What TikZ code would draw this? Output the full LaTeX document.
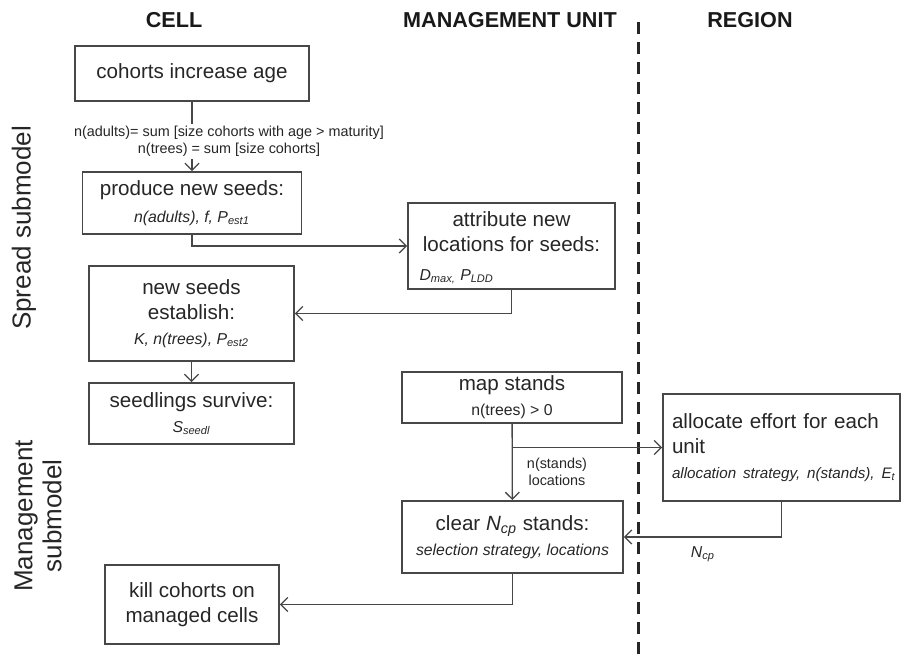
\documentclass[tikz,border=0pt]{standalone}
\usepackage{fontspec}
\setmainfont{Liberation Sans}
\usepackage{tikz}
\usetikzlibrary{arrows.meta,positioning}
\colorlet{spline}{black!72}
\colorlet{sptext}{black!85}
\newcommand{\spmain}{\fontsize{10.3pt}{12.4pt}\selectfont}
\newcommand{\spsmall}{\fontsize{7.9pt}{9.5pt}\selectfont}
\newcommand{\sptiny}{\fontsize{7.2pt}{8.6pt}\selectfont}
\tikzset{
  spstage/.style={
    draw=spline,
    line width=0.9pt,
    text=sptext,
    align=center,
    inner sep=2pt,
    font=\spmain
  },
  spflow/.style={-{Straight Barb[length=3.5pt,width=7pt]},line width=0.65pt,spline},
  spparam/.style={font=\spsmall\itshape,text=sptext,inner sep=0pt},
  spnote/.style={font=\sptiny,text=sptext,align=center,inner sep=1pt},
  sphead/.style={font=\fontsize{10.8pt}{13pt}\selectfont\bfseries,text=black!90},
  spside/.style={font=\fontsize{13pt}{14.5pt}\selectfont,text=black!85,rotate=90,align=center},
  spdivider/.style={line width=1.5pt,black!85,dash pattern=on 6pt off 4pt}
}

\begin{document}
\begin{tikzpicture}[x=0.5pt,y=-0.5pt]
  \useasboundingbox (0,0) rectangle (905,662);
  % headings and side titles
  \node[sphead] (cellhead) at (174,20) {CELL};
  \node[sphead] (unithead) at (510,20) {MANAGEMENT UNIT};
  \node[sphead] (regionhead) at (750,20) {REGION};
  \node[spside] (spreadside) at (24,228) {Spread submodel};
  \node[spside] (mgmtside) at (38,516) {Management\\submodel};
  \coordinate (divtop) at (638,22);
  \coordinate (divbot) at (638,662);
  \draw[spdivider] (divtop) -- (divbot);

  % spread submodel
  \node[spstage,minimum width=117pt,minimum height=27.5pt] (age) at (192,73.5)
    {cohorts increase age};
  \node[spstage,minimum width=109.5pt,minimum height=31pt] (seeds) at (192,203)
    {produce new seeds:\\[1pt]{\spsmall\itshape n(adults), f, P\textsubscript{est1}}};
  \node[spstage,minimum width=103.5pt,minimum height=43pt,
    label={[align=center,font=\spmain,text=sptext,anchor=north,inner sep=0pt,yshift=-4.5pt]north:{attribute new\\locations for seeds:}},
    label={[spparam,anchor=south west,xshift=6pt,yshift=3pt]south west:{D\textsubscript{max,} P\textsubscript{LDD}}}]
    (locate) at (511.5,246) {};
  \node[spstage,minimum width=102.5pt,minimum height=47.5pt] (establish) at (191.5,313.5)
    {new seeds\\establish:\\{\spsmall\itshape K, n(trees), P\textsubscript{est2}}};
  \node[spstage,minimum width=102.5pt,minimum height=30.5pt] (survive) at (191.5,413.5)
    {seedlings survive:\\{\spsmall\itshape S\textsubscript{seedl}}};

  % management submodel
  \node[spstage,minimum width=110pt,minimum height=23.5pt] (mapstands) at (512,397.5)
    {map stands\\{\spsmall n(trees) > 0}};
  \node[spstage,align=left,text width=109.5pt,inner xsep=4.5pt,minimum height=53.5pt]
    (allocate) at (781.5,447.5)
    {allocate effort for each\\unit\\\mbox{\fontsize{7.6pt}{9.5pt}\selectfont\itshape allocation strategy, n(stands), E\textsubscript{t}}};
  \node[spstage,minimum width=110.5pt,minimum height=36pt] (clear) at (512.5,537)
    {clear \textit{N\textsubscript{cp}} stands:\\{\spsmall\itshape selection strategy, locations}};
  \node[spstage,minimum width=87pt,minimum height=39.5pt] (kill) at (192,604.5)
    {kill cohorts on\\managed cells};

  % connectors
  \draw[spflow] (age.south) -- (seeds.north);
  \node[spnote,fill=white] (sums) at (229,141.5)
    {n(adults)= sum [size cohorts with age > maturity]\\n(trees) = sum [size cohorts]};
  \draw[spflow] (seeds.south) |- (locate.west);
  \draw[spflow] (locate.south) |- (establish.east);
  \draw[spflow] (establish) -- (survive);
  \draw[spflow] (mapstands) -- (clear);
  \draw[spflow] (mapstands.south |- allocate.west) -- (allocate.west);
  \node[spnote] (standsout) at (557,471.5) {n(stands)\\locations};
  \draw[spflow] (allocate.south) |- (clear.east);
  \node[spparam] (ncp) at (703,554) {N\textsubscript{cp}};
  \draw[spflow] (clear.south) |- (kill.east);
\end{tikzpicture}
\end{document}
